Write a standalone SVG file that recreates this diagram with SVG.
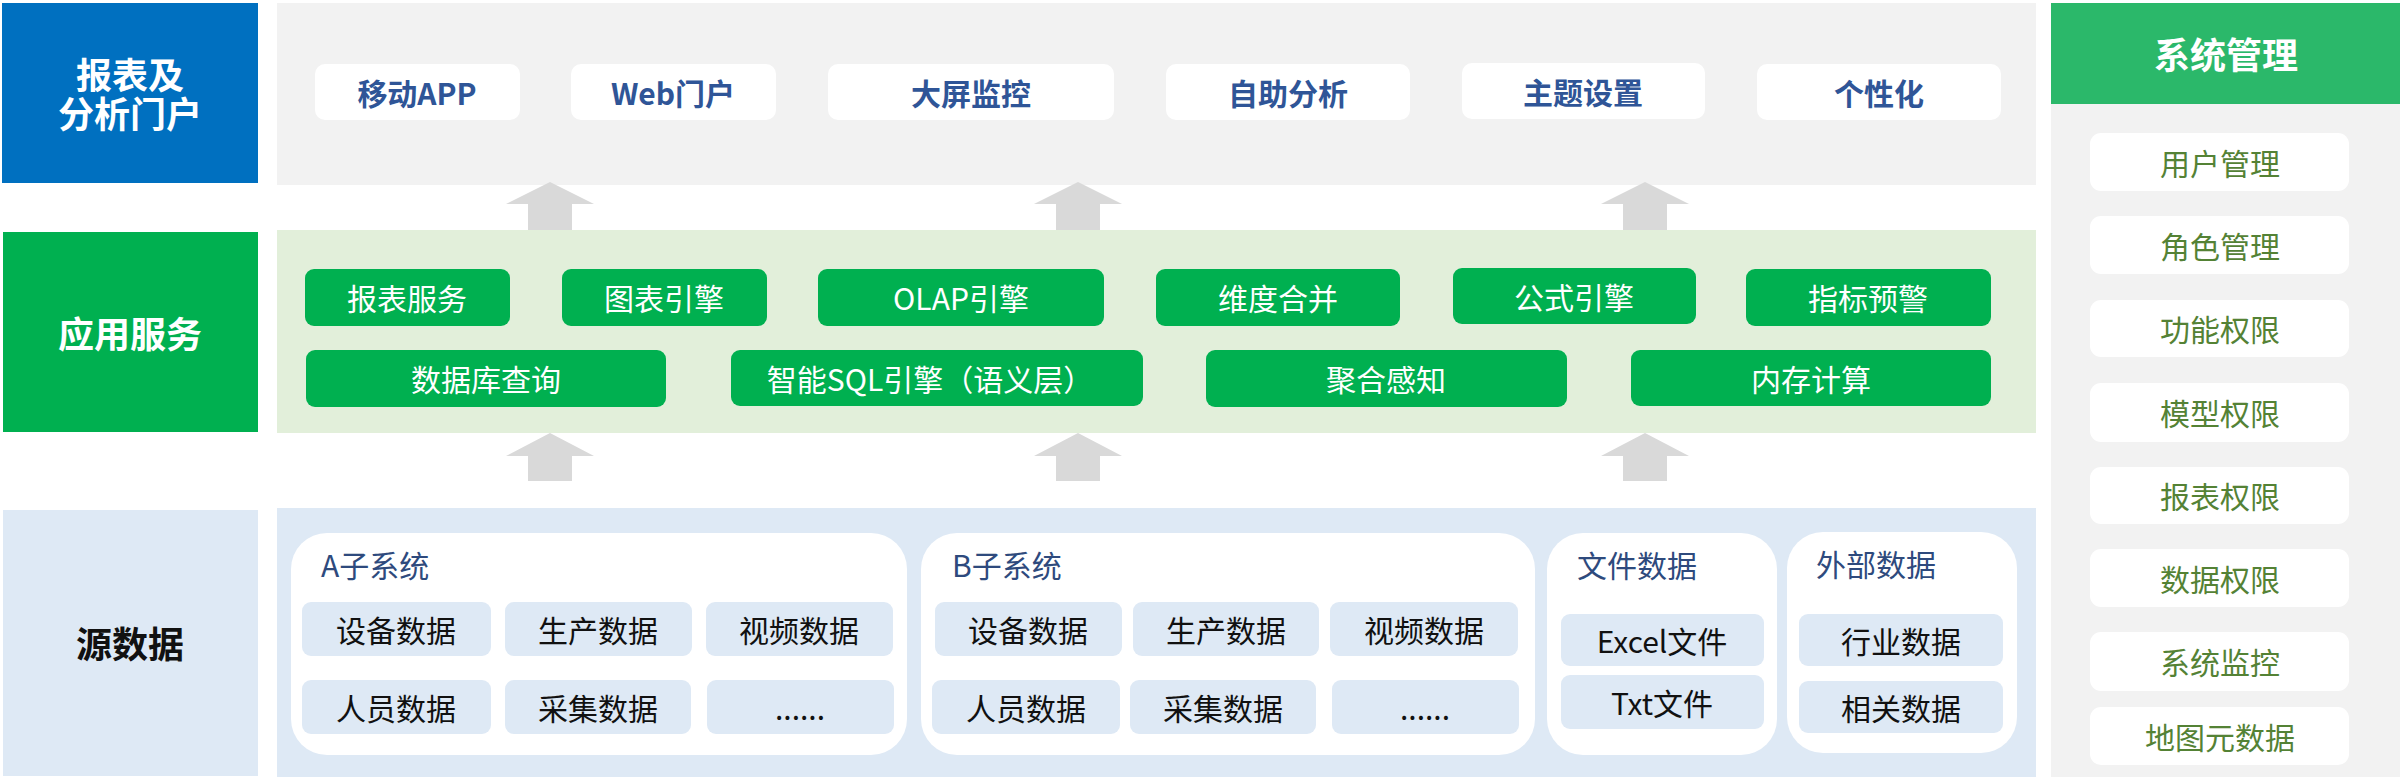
<svg xmlns="http://www.w3.org/2000/svg" width="2400" height="779" viewBox="0 0 2400 779">
<style>
text{font-family:"Noto Sans CJK SC","Microsoft YaHei","Noto Sans",sans-serif;text-anchor:middle;dominant-baseline:central}
.lbl{fill:#fff;font-size:36px;font-weight:bold}
.top rect{fill:#fff}
.top text{fill:#2f5597;font-size:30px;font-weight:bold}
.svc rect{fill:#00b050}
.svc text{fill:#fff;font-size:30px}
.sub{fill:#fff}
.subt{fill:#2e4a7d;font-size:30px;text-anchor:start}
.itm rect{fill:#dee9f5}
.itm text{fill:#111;font-size:30px}
.mgr rect{fill:#fff}
.mgr text{fill:#548235;font-size:30px}
.arr{fill:#d9d9d9}
</style>
<rect width="2400" height="779" fill="#fff"/>
<!-- panels -->
<rect x="277" y="3" width="1759" height="182" fill="#f2f2f2"/>
<rect x="277" y="230" width="1759" height="203" fill="#e2efda"/>
<rect x="277" y="508" width="1759" height="269" fill="#dee9f5"/>
<rect x="2051" y="104" width="349" height="673" fill="#f2f2f2"/>
<!-- connectors -->
<g id="connectors" class="arr">
<polygon points="550,182 594,204 572,204 572,230 528,230 528,204 506,204"/>
<polygon points="1078,182 1122,204 1100,204 1100,230 1056,230 1056,204 1034,204"/>
<polygon points="1645,182 1689,204 1667,204 1667,230 1623,230 1623,204 1601,204"/>
<polygon points="550,433 594,456 572,456 572,481 528,481 528,456 506,456"/>
<polygon points="1078,433 1122,456 1100,456 1100,481 1056,481 1056,456 1034,456"/>
<polygon points="1645,433 1689,456 1667,456 1667,481 1623,481 1623,456 1601,456"/>
</g>
<!-- left labels -->
<g id="layer-portal"><rect x="2" y="3" width="256" height="180" fill="#0070c0"/><text class="lbl"><tspan x="130" y="73">报表及</tspan><tspan x="130" y="112">分析门户</tspan></text></g>
<g id="layer-service"><rect x="3" y="232" width="255" height="200" fill="#00b050"/><text class="lbl" x="130" y="332">应用服务</text></g>
<g id="layer-source"><rect x="3" y="510" width="255" height="266" fill="#dee9f5"/><text class="lbl" x="130" y="642" style="fill:#111">源数据</text></g>
<!-- top items -->
<g class="top">
<g id="t-app"><rect x="315" y="64" width="205" height="56" rx="10"/><text x="417" y="92">移动APP</text></g>
<g id="t-web"><rect x="571" y="64" width="205" height="56" rx="10"/><text x="673" y="92">Web门户</text></g>
<g id="t-screen"><rect x="828" y="64" width="286" height="56" rx="10"/><text x="971" y="92">大屏监控</text></g>
<g id="t-self"><rect x="1166" y="64" width="244" height="56" rx="10"/><text x="1288" y="92">自助分析</text></g>
<g id="t-theme"><rect x="1462" y="63" width="243" height="56" rx="10"/><text x="1583" y="91">主题设置</text></g>
<g id="t-personal"><rect x="1757" y="64" width="244" height="56" rx="10"/><text x="1879" y="92">个性化</text></g>
</g>
<!-- service items -->
<g class="svc">
<g id="s-report"><rect x="305" y="269" width="205" height="57" rx="9"/><text x="407" y="297">报表服务</text></g>
<g id="s-chart"><rect x="562" y="269" width="205" height="57" rx="9"/><text x="664" y="297">图表引擎</text></g>
<g id="s-olap"><rect x="818" y="269" width="286" height="57" rx="9"/><text x="961" y="297">OLAP引擎</text></g>
<g id="s-dim"><rect x="1156" y="269" width="244" height="57" rx="9"/><text x="1278" y="297">维度合并</text></g>
<g id="s-formula"><rect x="1453" y="268" width="243" height="56" rx="9"/><text x="1574" y="296">公式引擎</text></g>
<g id="s-alert"><rect x="1746" y="269" width="245" height="57" rx="9"/><text x="1868" y="297">指标预警</text></g>
<g id="s-db"><rect x="306" y="350" width="360" height="57" rx="9"/><text x="486" y="378">数据库查询</text></g>
<g id="s-sql"><rect x="731" y="350" width="412" height="56" rx="9"/><text x="930" y="378">智能SQL引擎（语义层）</text></g>
<g id="s-agg"><rect x="1206" y="350" width="361" height="57" rx="9"/><text x="1386" y="378">聚合感知</text></g>
<g id="s-mem"><rect x="1631" y="350" width="360" height="56" rx="9"/><text x="1811" y="378">内存计算</text></g>
</g>
<!-- source containers -->
<g id="sys-a"><rect class="sub" x="291" y="533" width="616" height="222" rx="36"/><text class="subt" x="321" y="564">A子系统</text>
<g class="itm">
<rect x="302" y="602" width="189" height="54" rx="9"/><text x="396" y="629">设备数据</text>
<rect x="505" y="602" width="187" height="54" rx="9"/><text x="598" y="629">生产数据</text>
<rect x="706" y="602" width="187" height="54" rx="9"/><text x="799" y="629">视频数据</text>
<rect x="302" y="680" width="189" height="54" rx="9"/><text x="396" y="707">人员数据</text>
<rect x="505" y="680" width="186" height="54" rx="9"/><text x="598" y="707">采集数据</text>
<rect x="707" y="680" width="187" height="54" rx="9"/><text x="800" y="707">......</text>
</g></g>
<g id="sys-b"><rect class="sub" x="921" y="533" width="614" height="222" rx="36"/><text class="subt" x="952" y="564">B子系统</text>
<g class="itm">
<rect x="935" y="602" width="187" height="54" rx="9"/><text x="1028" y="629">设备数据</text>
<rect x="1133" y="602" width="186" height="54" rx="9"/><text x="1226" y="629">生产数据</text>
<rect x="1330" y="602" width="188" height="54" rx="9"/><text x="1424" y="629">视频数据</text>
<rect x="932" y="680" width="188" height="54" rx="9"/><text x="1026" y="707">人员数据</text>
<rect x="1130" y="680" width="186" height="54" rx="9"/><text x="1223" y="707">采集数据</text>
<rect x="1332" y="680" width="187" height="54" rx="9"/><text x="1425" y="707">......</text>
</g></g>
<g id="sys-file"><rect class="sub" x="1547" y="533" width="230" height="222" rx="36"/><text class="subt" x="1577" y="564">文件数据</text>
<g class="itm">
<rect x="1561" y="614" width="203" height="52" rx="9"/><text x="1662" y="640">Excel文件</text>
<rect x="1561" y="675" width="203" height="54" rx="9"/><text x="1662" y="702">Txt文件</text>
</g></g>
<g id="sys-ext"><rect class="sub" x="1787" y="532" width="230" height="221" rx="36"/><text class="subt" x="1816" y="563">外部数据</text>
<g class="itm">
<rect x="1799" y="614" width="204" height="52" rx="9"/><text x="1901" y="640">行业数据</text>
<rect x="1799" y="681" width="204" height="52" rx="9"/><text x="1901" y="707">相关数据</text>
</g></g>
<!-- system management -->
<g id="sysmgr-head"><rect x="2051" y="3" width="349" height="101" fill="#2bb86a"/><text class="lbl" x="2226" y="53">系统管理</text></g>
<g class="mgr">
<g id="m-user"><rect x="2090" y="133" width="259" height="58" rx="11"/><text x="2220" y="162">用户管理</text></g>
<g id="m-role"><rect x="2090" y="216" width="259" height="58" rx="11"/><text x="2220" y="245">角色管理</text></g>
<g id="m-func"><rect x="2090" y="300" width="259" height="57" rx="11"/><text x="2220" y="328">功能权限</text></g>
<g id="m-model"><rect x="2090" y="383" width="259" height="59" rx="11"/><text x="2220" y="412">模型权限</text></g>
<g id="m-report"><rect x="2090" y="467" width="259" height="57" rx="11"/><text x="2220" y="495">报表权限</text></g>
<g id="m-data"><rect x="2090" y="549" width="259" height="58" rx="11"/><text x="2220" y="578">数据权限</text></g>
<g id="m-monitor"><rect x="2090" y="632" width="259" height="59" rx="11"/><text x="2220" y="661">系统监控</text></g>
<g id="m-map"><rect x="2090" y="707" width="259" height="58" rx="11"/><text x="2220" y="736">地图元数据</text></g>
</g>
</svg>
